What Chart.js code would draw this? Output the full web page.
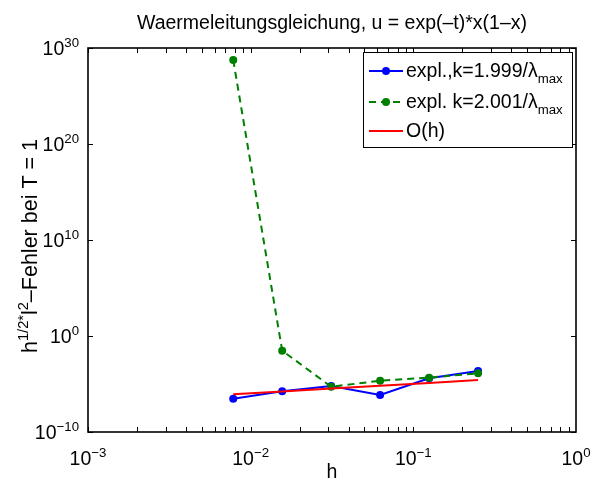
<!DOCTYPE html>
<html>
<head>
<meta charset="utf-8">
<script src="https://cdn.jsdelivr.net/npm/chart.js@4.4.0/dist/chart.umd.min.js"></script>
<style>
  html, body { margin: 0; padding: 0; background: #fff; }
  #wrap { width: 593px; height: 486px; position: relative; }
</style>
</head>
<body>
<div id="wrap"><canvas id="c"></canvas></div>
<script>
// grid sizes h = 1/128 ... 1/4
const hValues = [0.0078125, 0.015625, 0.03125, 0.0625, 0.125, 0.25];
// expl., k = 1.999/lambda_max
const errStable = [2.95e-7, 1.74e-6, 6.2e-6, 7.1e-7, 3.9e-5, 2.24e-4];
// expl. k = 2.001/lambda_max
const errUnstable = [5.6e28, 2.95e-2, 5.2e-6, 2.2e-5, 4.6e-5, 1.3e-4];
// reference O(h)
const orderRef = [8.5e-7, 1.7e-6, 3.4e-6, 6.6e-6, 1.3e-5, 2.6e-5];

const xDecades = [-3, -2, -1, 0];
const yDecades = [-10, 0, 10, 20, 30];

const titleText = "Waermeleitungsgleichung, u = exp(\u2013t)*x(1\u2013x)";
const FONT = "'Liberation Sans', Arial, sans-serif";
const SMALL = 0.68;

function pts(ys) {
  return hValues.map((h, i) => ({ x: h, y: ys[i] }));
}

// text made of runs: {t, sup, sub}
function runsWidth(ctx, runs, size) {
  let w = 0;
  for (const r of runs) {
    ctx.font = ((r.sup || r.sub) ? size * SMALL : size) + "px " + FONT;
    w += ctx.measureText(r.t).width;
  }
  return w;
}

function drawRuns(ctx, runs, x, y, size, align) {
  const w = runsWidth(ctx, runs, size);
  let cx = x;
  if (align === "center") cx = x - w / 2;
  if (align === "right") cx = x - w;
  ctx.textAlign = "left";
  ctx.textBaseline = "alphabetic";
  for (const r of runs) {
    const s = (r.sup || r.sub) ? size * SMALL : size;
    ctx.font = s + "px " + FONT;
    let dy = 0;
    if (r.sup) dy = -size * 0.42;
    if (r.sub) dy = size * 0.32;
    ctx.fillText(r.t, cx, y + dy);
    cx += ctx.measureText(r.t).width;
  }
}

function expLabel(e) {
  return [{ t: "10" }, { t: (e < 0 ? "\u2212" + (-e) : String(e)), sup: true }];
}

const legendItems = [
  [{ t: "expl.,k=1.999/\u03bb" }, { t: "max", sub: true }],
  [{ t: "expl. k=2.001/\u03bb" }, { t: "max", sub: true }],
  [{ t: "O(h)" }]
];

const decor = {
  id: "decor",
  afterDraw(chart) {
    const ctx = chart.ctx;
    const a = chart.chartArea;
    const xs = chart.scales.x, ys = chart.scales.y;
    ctx.save();
    ctx.strokeStyle = "#000";
    ctx.fillStyle = "#000";

    // inward ticks
    ctx.lineWidth = 1;
    ctx.beginPath();
    for (let d = xDecades[0]; d < xDecades[xDecades.length - 1]; d++) {
      for (let m = 1; m <= 9; m++) {
        const px = Math.round(xs.getPixelForValue(m * Math.pow(10, d))) + 0.5;
        ctx.moveTo(px, a.bottom); ctx.lineTo(px, a.bottom - 5);
        ctx.moveTo(px, a.top); ctx.lineTo(px, a.top + 5);
      }
    }
    for (const e of yDecades) {
      const py = Math.round(ys.getPixelForValue(Math.pow(10, e))) + 0.5;
      ctx.moveTo(a.left, py); ctx.lineTo(a.left + 5, py);
      ctx.moveTo(a.right, py); ctx.lineTo(a.right - 5, py);
    }
    ctx.stroke();

    // box
    ctx.lineWidth = 1.6;
    ctx.strokeRect(a.left, a.top, a.right - a.left, a.bottom - a.top);

    // tick labels
    const tsz = 19.5;
    for (const e of xDecades) {
      const px = xs.getPixelForValue(Math.pow(10, e));
      drawRuns(ctx, expLabel(e), px, a.bottom + 33, tsz, "center");
    }
    for (const e of yDecades) {
      const py = ys.getPixelForValue(Math.pow(10, e));
      drawRuns(ctx, expLabel(e), a.left - 9, py + 7, tsz, "right");
    }

    // title and axis labels
    drawRuns(ctx, [{ t: titleText }], (a.left + a.right) / 2, 29, 19.5, "center");
    drawRuns(ctx, [{ t: "h" }], (a.left + a.right) / 2, 478, 19.5, "center");
    ctx.save();
    ctx.translate(37, 246);
    ctx.rotate(-Math.PI / 2);
    drawRuns(ctx, [{ t: "h" }, { t: "1/2*", sup: true }, { t: "l" }, { t: "2", sup: true },
      { t: "\u2013Fehler bei T = 1" }], 0, 0, 21.5, "center");
    ctx.restore();

    // legend box
    const lx = 363, ly = 52, lw = 209, lh = 95;
    ctx.fillStyle = "#fff";
    ctx.fillRect(lx, ly, lw, lh);
    ctx.lineWidth = 1;
    ctx.strokeStyle = "#000";
    ctx.strokeRect(lx + 0.5, ly + 0.5, lw, lh);
    const rowsY = [71, 102, 131];
    chart.data.datasets.forEach((ds, i) => {
      const y = rowsY[i];
      ctx.save();
      ctx.strokeStyle = ds.borderColor;
      ctx.lineWidth = ds.borderWidth;
      ctx.setLineDash(ds.borderDash || []);
      ctx.beginPath();
      ctx.moveTo(369, y); ctx.lineTo(403, y);
      ctx.stroke();
      ctx.setLineDash([]);
      if (ds.pointRadius > 0) {
        ctx.fillStyle = ds.pointBackgroundColor;
        ctx.beginPath();
        ctx.arc(386, y, ds.pointRadius, 0, Math.PI * 2);
        ctx.fill();
      }
      ctx.restore();
      ctx.fillStyle = "#000";
      drawRuns(ctx, legendItems[i], 406, y + 6, 19.5, "left");
    });
    ctx.restore();
  }
};

new Chart(document.getElementById("c"), {
  type: "scatter",
  data: {
    datasets: [
      {
        label: "expl.,k=1.999/lambda_max",
        data: pts(errStable),
        showLine: true,
        borderColor: "#0000ff",
        backgroundColor: "#0000ff",
        pointBackgroundColor: "#0000ff",
        pointBorderWidth: 0,
        pointRadius: 4,
        borderWidth: 2,
        order: 3
      },
      {
        label: "expl. k=2.001/lambda_max",
        data: pts(errUnstable),
        showLine: true,
        borderColor: "#008000",
        backgroundColor: "#008000",
        pointBackgroundColor: "#008000",
        pointBorderWidth: 0,
        pointRadius: 4,
        borderWidth: 2,
        borderDash: [7, 5],
        order: 2
      },
      {
        label: "O(h)",
        data: pts(orderRef),
        showLine: true,
        borderColor: "#ff0000",
        backgroundColor: "#ff0000",
        pointRadius: 0,
        borderWidth: 2,
        order: 1
      }
    ]
  },
  options: {
    responsive: true,
    maintainAspectRatio: false,
    animation: false,
    layout: { padding: { left: 88, right: 17, top: 48, bottom: 54 } },
    plugins: { legend: { display: false }, tooltip: { enabled: false } },
    scales: {
      x: { type: "logarithmic", display: false, min: 1e-3, max: 1 },
      y: { type: "logarithmic", display: false, min: 1e-10, max: 1e30 }
    }
  },
  plugins: [decor]
});
</script>
</body>
</html>
